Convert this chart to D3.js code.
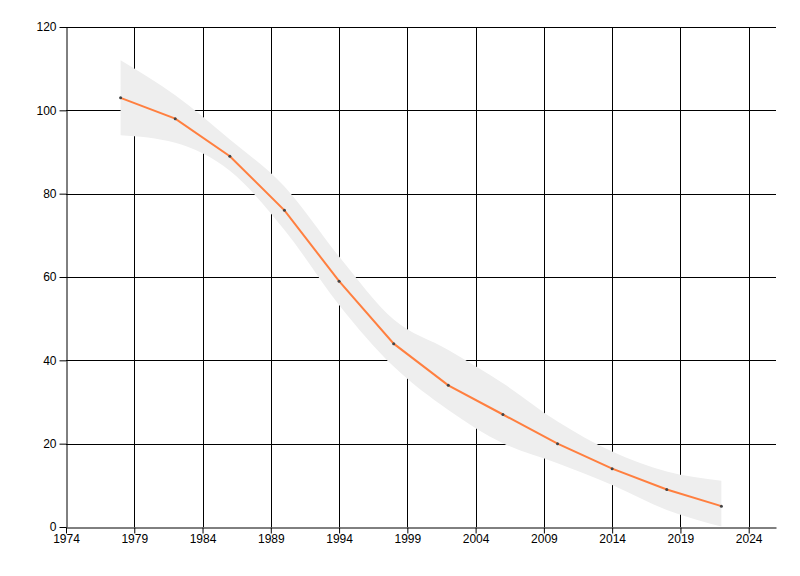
<!DOCTYPE html>
<html><head><meta charset="utf-8">
<script src="https://cdn.jsdelivr.net/npm/d3@7"></script>
<style>body{margin:0;background:#fff}svg{display:block}</style>
</head><body>
<script>
const years = [1978, 1982, 1986, 1990, 1994, 1998, 2002, 2006, 2010, 2014, 2018, 2022];
const values = [103, 98, 89, 76, 59, 44, 34, 27, 20, 14, 9, 5];
const upper = [112, 103.6, 93, 81.7, 64.9, 49.8, 42.5, 34.5, 25.3, 18.1, 13.3, 11.1];
const lower = [94, 92.2, 85.5, 71.3, 53.3, 38.5, 28.1, 20.1, 15.3, 10.1, 4.1, 0.1];
const xTicks = [1974, 1979, 1984, 1989, 1994, 1999, 2004, 2009, 2014, 2019, 2024];
const yTicks = [0, 20, 40, 60, 80, 100, 120];

const W = 800, H = 576;
const m = {left: 66, right: 24, top: 27, bottom: 49};
const svg = d3.select("body").append("svg").attr("width", W).attr("height", H);
const x = d3.scaleLinear().domain([1974, 2026]).range([m.left, W - m.right]);
const y = d3.scaleLinear().domain([0, 120]).range([H - m.bottom, m.top]);

// grid
const g = svg.append("g");
g.selectAll(".vg").data(xTicks.slice(1)).join("line")
  .attr("x1", d => Math.round(x(d)) + 0.5).attr("x2", d => Math.round(x(d)) + 0.5)
  .attr("y1", y(120)).attr("y2", y(0)).attr("stroke", "#000").attr("stroke-width", 1);
g.selectAll(".hg").data(yTicks.slice(1)).join("line")
  .attr("x1", m.left).attr("x2", W - m.right)
  .attr("y1", d => Math.round(y(d)) + 0.5).attr("y2", d => Math.round(y(d)) + 0.5)
  .attr("stroke", "#000").attr("stroke-width", 1);

// band
const rows = years.map((yr, i) => ({yr, v: values[i], u: upper[i], l: lower[i]}));
svg.append("path").datum(rows)
  .attr("d", d3.area().x(d => x(d.yr)).y0(d => y(d.l)).y1(d => y(d.u)).curve(d3.curveMonotoneX))
  .attr("fill", "#eeeeee");

// line
svg.append("path").datum(rows)
  .attr("d", d3.line().x(d => x(d.yr)).y(d => y(d.v)))
  .attr("fill", "none").attr("stroke", "#ff7f3f").attr("stroke-width", 2);
svg.selectAll(".pt").data(rows).join("circle")
  .attr("cx", d => x(d.yr)).attr("cy", d => y(d.v)).attr("r", 1.5).attr("fill", "#444");

// axes
const xa = svg.append("g").attr("transform", `translate(0,${Math.round(y(0)) + 0.5})`)
  .call(d3.axisBottom(x).tickValues(xTicks).tickFormat(d3.format("d")).tickSize(6).tickSizeOuter(0));
const ya = svg.append("g").attr("transform", `translate(${m.left + 0.5},0)`)
  .call(d3.axisLeft(y).tickValues(yTicks).tickSize(7).tickSizeOuter(0));
[xa, ya].forEach(a => {
  a.select(".domain").attr("stroke", "#000");
  a.selectAll(".tick line").attr("stroke", "#000");
  a.selectAll("text").attr("fill", "#000").attr("font-family", "Liberation Sans, Arial, sans-serif").attr("font-size", 12);
});
xa.selectAll("text").attr("dy", "0.9em").attr("y", 5);
ya.selectAll("text").attr("x", -10);
</script>
</body></html>
